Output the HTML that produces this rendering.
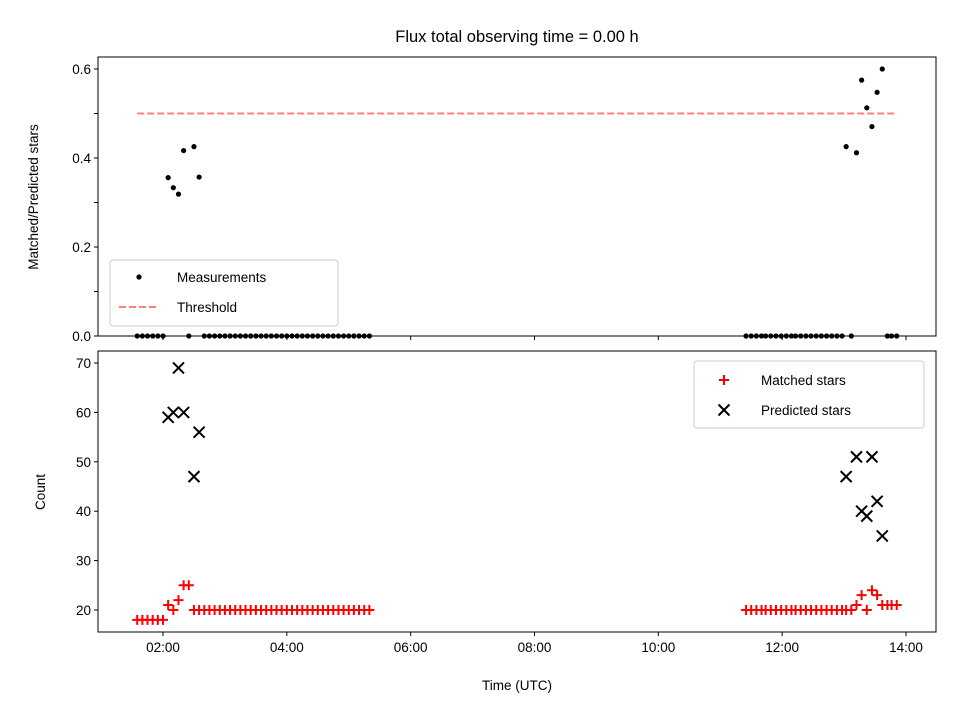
<!DOCTYPE html>
<html><head><meta charset="utf-8"><style>
body{margin:0;background:#fff;}
svg{display:block;font-family:"Liberation Sans","DejaVu Sans",sans-serif;}
</style></head><body>
<svg id="chart" width="960" height="720" viewBox="0 0 960 720" xmlns="http://www.w3.org/2000/svg">
<rect width="960" height="720" fill="#fff"/>
<text x="517" y="42" font-size="16.5" text-anchor="middle">Flux total observing time = 0.00 h</text>
<g id="topg"></g><g id="botg"></g>
</svg>
<script>
// times in minutes since 00:00 UTC
const times = [95,100,105,110,115,120,125,130,135,140,145,150,155,160,165,170,175,180,185,190,195,200,205,210,215,220,225,230,235,240,245,250,255,260,265,270,275,280,285,290,295,300,305,310,315,320,
685,690,695,700,704,709,714,719,724,729,733,738,743,748,753,758,763,768,773,778,782,787,792,797,802,807,812,817,822,826,831];
const matched = [18,18,18,18,18,18,21,20,22,25,25,20,20,20,20,20,20,20,20,20,20,20,20,20,20,20,20,20,20,20,20,20,20,20,20,20,20,20,20,20,20,20,20,20,20,20,
20,20,20,20,20,20,20,20,20,20,20,20,20,20,20,20,20,20,20,20,20,20,21,23,20,24,23,21,21,21,21];
const predicted = [null,null,null,null,null,null,59,60,69,60,null,47,56,null,null,null,null,null,null,null,null,null,null,null,null,null,null,null,null,null,null,null,null,null,null,null,null,null,null,null,null,null,null,null,null,null,
null,null,null,null,null,null,null,null,null,null,null,null,null,null,null,null,null,null,null,null,47,null,51,40,39,51,42,35,null,null,null];
const threshold = 0.5;
const xTicks = [120,240,360,480,600,720,840];
const xTickLabels = ["02:00","04:00","06:00","08:00","10:00","12:00","14:00"];
const topTicks = [0,0.2,0.4,0.6];
const botTicks = [20,30,40,50,60,70];

const NS="http://www.w3.org/2000/svg";
const L=98,R=936;
const xs=t=>163+(t-120)*(743/720);
const yTop=v=>336-v*445;
const yBot=v=>610-(v-20)*4.94;
function mk(p,tag,at,txt){const e=document.createElementNS(NS,tag);for(const k in at)e.setAttribute(k,at[k]);if(txt!==undefined)e.textContent=txt;p.appendChild(e);return e;}
const topG=document.getElementById('topg'), botG=document.getElementById('botg');
const ratio=matched.map((m,i)=>predicted[i]?m/predicted[i]:0);

// top axes
let f=mk(topG,'rect',{x:L,y:57,width:R-L,height:279,fill:'none',stroke:'#000','stroke-width':1});


let th=mk(topG,'line',{x1:xs(times[0]),x2:xs(times[times.length-1]),y1:yTop(threshold),y2:yTop(threshold),stroke:'#ff8080','stroke-width':2,'stroke-dasharray':'7,3'});


ratio.forEach((v,i)=>{const c=mk(topG,'circle',{cx:xs(times[i]),cy:yTop(v),r:2.6,fill:'#000'});

});
[0,0.1,0.2,0.3,0.4,0.5,0.6].forEach(v=>{mk(topG,'line',{x1:L-4,x2:L,y1:yTop(v),y2:yTop(v),stroke:'#000'});});
topTicks.forEach(v=>{const t=mk(topG,'text',{x:L-7,y:yTop(v)+5,'font-size':13.5,'text-anchor':'end'},v.toFixed(1));

});
xTicks.forEach(v=>mk(topG,'line',{x1:xs(v),x2:xs(v),y1:336,y2:340,stroke:'#000'}));
let yt=mk(topG,'text',{x:0,y:0,'font-size':13.5,'text-anchor':'middle',transform:'translate(38,197) rotate(-90)'},'Matched/Predicted stars');


let lg=mk(topG,'g',{});


mk(lg,'rect',{x:110,y:260,width:228,height:66,rx:3,fill:'#fff','fill-opacity':0.8,stroke:'#ccc'});
mk(lg,'circle',{cx:139,cy:277,r:2.6,fill:'#000'});
mk(lg,'text',{x:177,y:282,'font-size':13.5},'Measurements');
mk(lg,'line',{x1:119,x2:159,y1:307,y2:307,stroke:'#ff8080','stroke-width':2,'stroke-dasharray':'7,3'});
mk(lg,'text',{x:177,y:312,'font-size':13.5},'Threshold');

// bottom axes
f=mk(botG,'rect',{x:L,y:351,width:R-L,height:281,fill:'none',stroke:'#000'});


matched.forEach((v,i)=>{const x=xs(times[i]),y=yBot(v);const p=mk(botG,'path',{d:`M${x-5} ${y}H${x+5}M${x} ${y-5}V${y+5}`,stroke:'#f00','stroke-width':2});

});
predicted.forEach((v,i)=>{if(v==null)return;const x=xs(times[i]),y=yBot(v);const p=mk(botG,'path',{d:`M${x-5.5} ${y-5.5}L${x+5.5} ${y+5.5}M${x-5.5} ${y+5.5}L${x+5.5} ${y-5.5}`,stroke:'#000','stroke-width':2});

});
botTicks.forEach(v=>{mk(botG,'line',{x1:L-4,x2:L,y1:yBot(v),y2:yBot(v),stroke:'#000'});
const t=mk(botG,'text',{x:L-7,y:yBot(v)+5,'font-size':13.5,'text-anchor':'end'},String(v));

});
xTicks.forEach((v,i)=>{mk(botG,'line',{x1:xs(v),x2:xs(v),y1:632,y2:636,stroke:'#000'});
const t=mk(botG,'text',{x:xs(v),y:652,'font-size':13.5,'text-anchor':'middle'},xTickLabels[i]);

});
yt=mk(botG,'text',{x:0,y:0,'font-size':13.5,'text-anchor':'middle',transform:'translate(45,492) rotate(-90)'},'Count');


let xt=mk(botG,'text',{x:517,y:690,'font-size':13.5,'text-anchor':'middle'},'Time (UTC)');


lg=mk(botG,'g',{});


mk(lg,'rect',{x:694,y:361,width:230,height:67,rx:3,fill:'#fff','fill-opacity':0.8,stroke:'#ccc'});
mk(lg,'path',{d:'M719 380H729M724 375V385',stroke:'#f00','stroke-width':2});
mk(lg,'text',{x:761,y:385,'font-size':13.5},'Matched stars');
mk(lg,'path',{d:'M718.5 404.5L729.5 415.5M718.5 415.5L729.5 404.5',stroke:'#000','stroke-width':2});
mk(lg,'text',{x:761,y:415,'font-size':13.5},'Predicted stars');
</script>
</body></html>
